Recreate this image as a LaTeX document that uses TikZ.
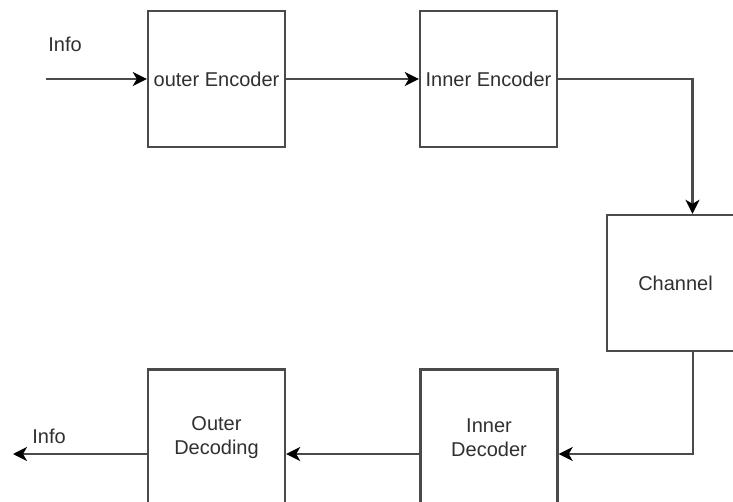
\documentclass[tikz,border=0pt]{standalone}
\usepackage{fontspec}
\setmainfont{Liberation Sans}
\usetikzlibrary{arrows.meta}
\definecolor{ln}{HTML}{4a4a4a}
\definecolor{tx}{HTML}{303030}
\tikzset{
  blk/.style={draw=ln, line width=2.4pt, fill=white, minimum width=137pt, minimum height=136pt, inner sep=0pt, align=center, text=tx, font=\fontsize{20}{24}\selectfont},
  arr/.style={draw=ln, line width=2.4pt, -{Stealth[length=14pt,width=14pt,inset=4pt,color=black]}},
  lbl/.style={text=tx, font=\fontsize{20}{24}\selectfont, inner sep=0pt}
}
\begin{document}
\begin{tikzpicture}[x=1pt,y=-1pt]
\path[use as bounding box, clip] (0,0) rectangle (733,502);
\fill[white] (0,0) rectangle (733,502);
\node[blk] (oe) at (216.5,79) {outer Encoder};
\node[blk] (ie) at (488.5,79) {Inner Encoder};
\node[blk] (ch) at (675.5,283) {Channel};
\node[blk] (id) at (489,437.5) {Inner\\Decoder};
\node[blk] (od) at (216.5,437.5) {Outer\\Decoding};
\coordinate (in) at (46,79);
\coordinate (out) at (13,454);
\node[lbl] (l1) at (65,44) {Info};
\node[lbl] (l2) at (49,436) {Info};
\draw[arr] (in) -- (oe.west);
\draw[arr] (oe.east) -- (ie.west);
\draw[arr] (ie.east) -| ([xshift=17pt]ch.north);
\draw[arr] ([xshift=17.5pt]ch.south) |- ([yshift=-16.5pt]id.east);
\draw[arr] ([yshift=-16.5pt]id.west) -- ([yshift=-16.5pt]od.east);
\draw[arr] ([yshift=-16.5pt]od.west) -- (out);
\end{tikzpicture}
\end{document}
